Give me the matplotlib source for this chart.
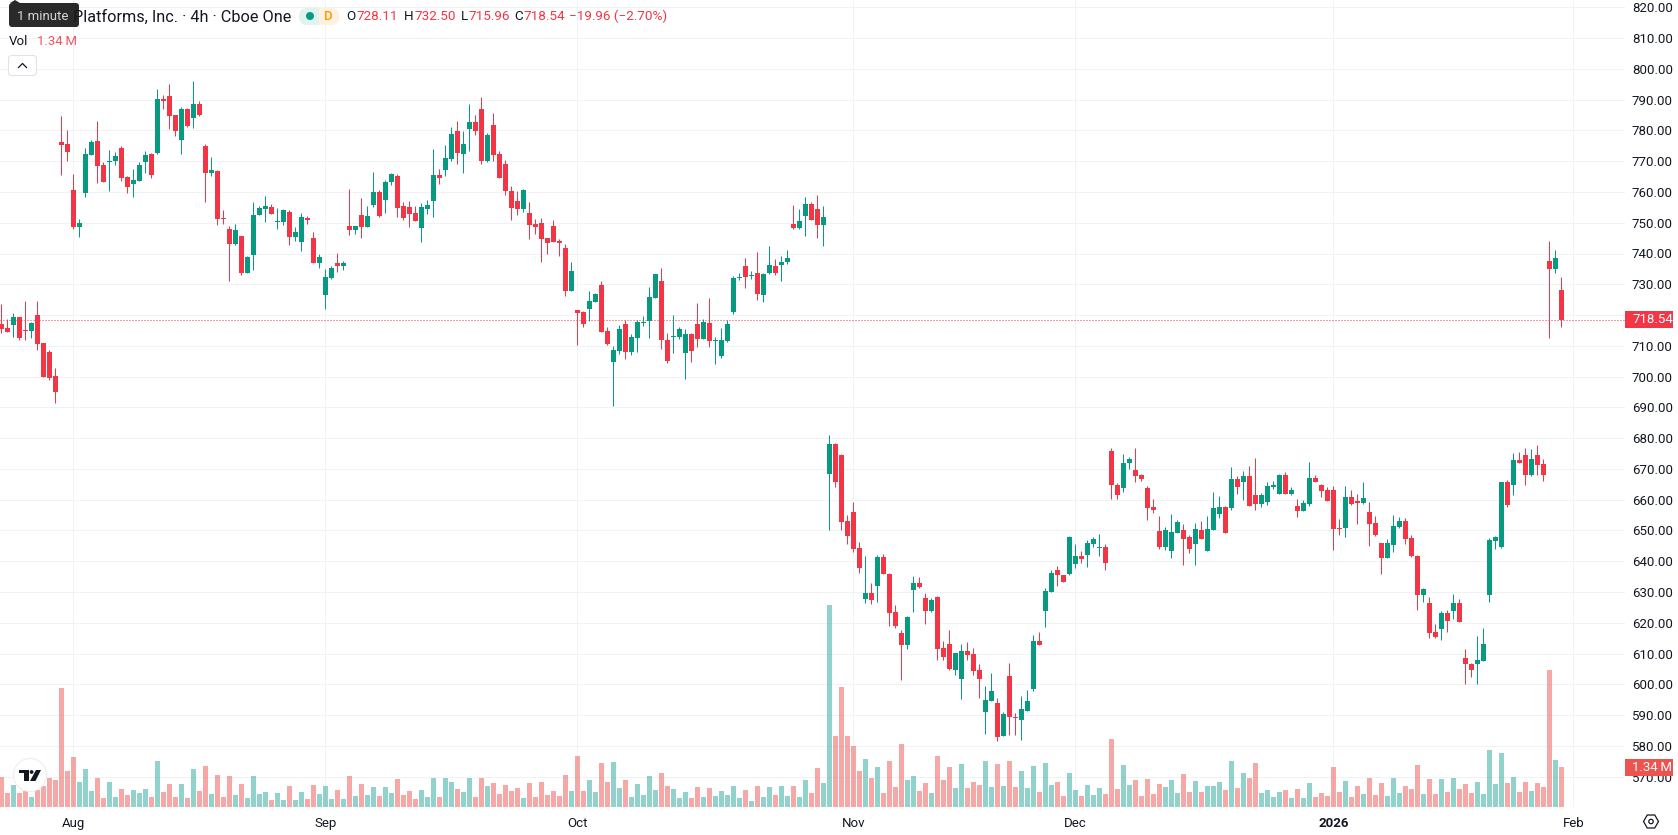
import matplotlib
matplotlib.use("Agg")
import matplotlib.pyplot as plt
import numpy as np
from matplotlib.patches import Circle, FancyBboxPatch, Polygon, Rectangle, RegularPolygon

opens = [
    717.1, 715.8, 716.8, 719.4, 715.2, 714.8, 720.0, 710.9, 708.0, 700.2,
    776.2, 775.6, 760.7, 748.6, 759.7, 772.0, 776.6, 768.8, 769.8, 770.1,
    774.3, 764.9, 762.6, 763.6, 769.8, 772.4, 772.7, 790.2, 791.2, 785.0,
    776.9, 787.0, 784.1, 788.6, 775.0, 766.2, 766.8, 751.6, 748.0, 743.1,
    745.7, 733.7, 739.5, 752.5, 754.5, 755.1, 750.3, 750.3, 753.5, 745.4,
    743.8, 751.6, 745.1, 736.9, 726.5, 732.1, 736.9, 736.0, 749.0, 747.7,
    752.5, 748.6, 755.8, 760.0, 757.4, 763.3, 765.2, 755.5, 755.1, 753.2,
    748.3, 754.5, 757.1, 765.5, 767.1, 770.7, 779.8, 772.4, 780.5, 782.7,
    787.0, 770.1, 781.8, 772.4, 769.1, 760.3, 757.1, 754.5, 753.2, 749.6,
    749.9, 745.0, 748.9, 744.1, 741.8, 727.8, 721.7, 721.0, 722.0, 724.2,
    729.8, 714.8, 704.8, 708.3, 717.1, 708.0, 712.5, 717.4, 718.1, 725.6,
    731.1, 711.9, 712.9, 712.9, 707.7, 713.9, 717.1, 712.2, 717.4, 711.6,
    706.7, 711.6, 721.0, 732.1, 736.0, 732.7, 733.7, 726.5, 733.7, 736.0,
    736.3, 737.3, 749.6, 748.3, 752.2, 756.1, 754.5, 749.3, 668.4, 678.1,
    674.5, 653.1, 656.0, 644.3, 627.7, 629.7, 631.9, 641.4, 635.9, 623.5,
    616.7, 612.8, 630.6, 632.9, 628.1, 623.8, 628.4, 611.8, 613.1, 604.7,
    601.7, 610.8, 609.9, 604.7, 591.0, 594.6, 593.9, 583.2, 602.7, 589.4,
    588.4, 591.3, 598.5, 614.1, 623.8, 630.0, 637.2, 635.5, 635.9, 639.1,
    641.7, 642.0, 645.6, 644.3, 644.6, 675.8, 664.8, 663.8, 671.9, 669.6,
    668.0, 663.8, 657.6, 649.8, 644.6, 643.3, 649.2, 650.2, 647.9, 645.6,
    650.2, 643.3, 650.2, 655.3, 657.6, 657.3, 666.7, 665.7, 667.7, 661.5,
    658.6, 659.2, 664.1, 661.9, 668.0, 661.9, 657.9, 656.3, 658.6, 667.0,
    664.8, 663.2, 663.2, 650.8, 650.8, 660.9, 659.6, 658.9, 656.0, 652.4,
    645.9, 641.1, 645.3, 651.1, 653.1, 647.5, 641.7, 629.0, 626.4, 617.0,
    618.0, 623.2, 623.8, 626.4, 608.5, 606.6, 606.6, 607.6, 629.0, 646.6,
    644.6, 665.7, 664.8, 672.9, 674.5, 668.0, 674.5, 671.6, 737.6, 735.0, 728.11,
]
highs = [
    723.6, 718.6, 720.8, 719.4, 724.6, 717.8, 724.6, 710.9, 708.7, 702.8,
    784.7, 780.2, 765.9, 751.2, 774.3, 776.9, 783.1, 769.6, 773.7, 773.0,
    774.9, 765.2, 767.5, 769.6, 773.3, 772.7, 793.5, 791.5, 795.1, 785.0,
    787.6, 787.3, 796.1, 789.6, 775.6, 771.4, 767.2, 754.2, 749.0, 749.6,
    745.7, 739.2, 756.8, 755.5, 758.7, 756.1, 754.8, 754.5, 754.2, 748.6,
    753.2, 752.2, 747.0, 739.9, 735.0, 736.0, 740.2, 737.6, 761.0, 749.0,
    758.0, 755.5, 766.5, 760.7, 763.9, 766.2, 765.9, 756.8, 757.1, 755.5,
    756.4, 757.4, 774.0, 767.5, 775.3, 781.1, 783.1, 779.8, 788.6, 785.0,
    790.9, 779.2, 785.7, 773.3, 770.4, 762.0, 760.3, 761.0, 756.8, 751.2,
    751.6, 745.0, 750.9, 744.7, 743.1, 737.3, 721.7, 721.3, 727.8, 727.2,
    731.1, 716.1, 710.0, 716.8, 718.4, 713.9, 718.4, 719.7, 729.1, 733.4,
    735.3, 714.2, 720.0, 716.1, 715.5, 714.2, 723.9, 718.7, 725.6, 712.9,
    715.8, 718.4, 732.7, 733.7, 738.6, 734.3, 740.5, 733.7, 742.4, 738.2,
    739.2, 741.2, 755.8, 754.5, 758.4, 756.8, 759.0, 755.5, 681.0, 678.4,
    674.9, 655.0, 659.3, 646.3, 641.7, 632.9, 642.0, 642.4, 636.2, 625.8,
    617.6, 622.2, 635.2, 634.9, 629.7, 628.1, 628.7, 614.1, 617.6, 610.2,
    613.1, 613.7, 611.8, 606.6, 599.4, 603.7, 595.6, 591.0, 606.9, 590.7,
    596.2, 598.1, 616.0, 617.0, 631.3, 637.2, 638.4, 635.5, 648.2, 645.6,
    643.3, 646.9, 647.9, 648.9, 645.6, 676.8, 665.4, 674.9, 673.9, 676.8,
    668.4, 664.5, 660.2, 654.7, 651.1, 655.4, 653.4, 652.1, 648.5, 652.4,
    653.1, 654.7, 662.5, 661.2, 657.9, 670.6, 667.7, 669.3, 670.9, 673.6,
    662.2, 665.8, 666.1, 668.4, 669.0, 664.1, 660.2, 659.9, 672.2, 668.0,
    665.1, 664.1, 664.5, 653.7, 664.5, 663.2, 661.9, 665.7, 659.3, 654.7,
    645.9, 647.2, 655.0, 654.4, 654.0, 648.5, 642.0, 631.3, 628.4, 619.6,
    623.8, 624.1, 629.3, 627.7, 611.5, 606.9, 615.7, 618.3, 647.5, 648.2,
    665.7, 666.4, 675.2, 675.5, 676.8, 676.5, 677.8, 673.2, 744.1, 741.1, 732.50,
]
lows = [
    714.3, 714.5, 713.0, 711.9, 711.9, 712.6, 708.6, 699.9, 698.9, 691.4,
    765.5, 770.1, 748.0, 745.4, 758.4, 772.0, 762.9, 763.3, 760.3, 768.8,
    763.6, 759.7, 758.4, 763.6, 766.2, 764.6, 772.4, 787.0, 780.5, 778.2,
    772.4, 781.1, 780.8, 784.7, 756.8, 765.2, 749.3, 749.6, 731.1, 742.8,
    733.0, 733.7, 734.7, 752.5, 750.3, 752.9, 748.0, 749.3, 742.8, 744.1,
    740.8, 749.6, 736.9, 735.3, 722.0, 731.7, 734.0, 734.7, 746.0, 746.4,
    745.1, 748.6, 755.1, 751.9, 753.2, 762.3, 751.9, 750.9, 748.6, 750.6,
    743.8, 752.8, 751.9, 762.6, 765.2, 770.1, 769.1, 766.2, 773.3, 778.5,
    769.1, 769.8, 770.1, 764.5, 759.0, 750.9, 752.5, 753.5, 744.7, 746.4,
    737.3, 739.9, 743.8, 739.2, 726.2, 727.8, 710.3, 716.1, 718.1, 724.2,
    714.5, 710.3, 690.5, 707.4, 705.7, 707.0, 708.0, 716.4, 712.5, 725.6,
    709.0, 704.4, 707.7, 712.2, 699.2, 704.8, 709.6, 712.2, 709.6, 704.1,
    706.1, 711.2, 720.4, 731.4, 728.8, 731.7, 724.9, 724.3, 733.4, 733.0,
    731.1, 736.6, 748.0, 748.0, 745.7, 750.9, 745.0, 742.4, 650.2, 664.1,
    650.2, 645.6, 643.0, 636.2, 626.4, 626.1, 626.7, 635.9, 619.0, 618.3,
    601.4, 611.5, 623.5, 631.3, 619.6, 623.5, 607.9, 607.9, 604.7, 603.0,
    595.2, 607.9, 603.0, 595.6, 583.8, 594.6, 581.6, 583.2, 583.5, 583.5,
    581.9, 591.3, 597.8, 612.8, 618.6, 630.0, 631.9, 633.2, 635.5, 637.8,
    639.4, 638.1, 644.6, 641.7, 637.2, 660.2, 660.2, 662.5, 670.0, 665.8,
    666.1, 653.4, 655.7, 644.0, 643.6, 641.1, 649.2, 638.8, 642.7, 638.8,
    647.2, 643.3, 650.2, 654.0, 649.2, 656.7, 661.9, 659.9, 657.9, 656.7,
    657.6, 658.3, 663.5, 661.9, 661.9, 661.5, 654.4, 656.3, 657.9, 665.7,
    660.9, 659.6, 643.6, 648.5, 647.9, 658.3, 652.1, 658.6, 645.0, 648.2,
    635.9, 641.1, 643.0, 650.8, 645.6, 641.4, 624.1, 626.7, 615.0, 615.0,
    614.4, 617.0, 621.2, 620.2, 600.1, 602.4, 600.1, 607.6, 626.7, 644.0,
    644.3, 657.6, 661.5, 671.9, 664.8, 667.7, 668.0, 666.1, 712.5, 733.7, 715.96,
]
closes = [
    715.5, 714.5, 719.4, 712.6, 714.8, 717.4, 710.6, 699.9, 699.6, 695.0,
    775.3, 773.0, 748.6, 749.9, 772.4, 776.2, 768.5, 763.3, 770.1, 771.7,
    764.6, 761.6, 763.9, 768.8, 772.0, 765.5, 790.2, 789.6, 784.7, 779.8,
    787.0, 781.4, 788.6, 785.0, 766.2, 767.2, 751.2, 751.2, 743.1, 747.6,
    733.7, 738.9, 752.5, 754.8, 755.5, 752.9, 750.6, 754.2, 745.4, 747.0,
    751.9, 750.9, 736.9, 738.9, 732.4, 735.3, 736.0, 736.9, 747.7, 749.0,
    748.6, 752.2, 760.0, 752.2, 763.3, 765.9, 754.8, 751.6, 752.9, 750.6,
    755.1, 755.8, 765.5, 764.5, 771.0, 778.9, 772.7, 775.6, 782.7, 779.8,
    770.1, 778.5, 772.0, 764.5, 760.3, 754.8, 754.5, 760.6, 749.3, 748.6,
    744.7, 743.4, 743.8, 743.4, 727.8, 734.3, 720.7, 717.1, 724.6, 726.8,
    714.5, 710.6, 708.7, 715.5, 708.0, 712.9, 717.8, 717.8, 725.9, 733.4,
    711.9, 705.1, 713.2, 715.5, 713.9, 708.3, 712.2, 717.8, 711.6, 711.9,
    711.9, 717.1, 732.1, 732.4, 732.4, 733.0, 726.8, 733.4, 736.3, 733.7,
    737.3, 738.6, 748.3, 750.6, 756.1, 750.9, 749.3, 751.9, 678.1, 665.8,
    652.8, 648.2, 644.0, 637.8, 629.7, 627.4, 641.4, 635.9, 623.2, 619.0,
    612.8, 621.9, 632.9, 631.6, 623.8, 627.4, 611.5, 608.9, 605.0, 610.2,
    610.8, 609.5, 604.3, 601.7, 594.9, 597.8, 582.9, 590.4, 589.4, 589.1,
    592.0, 594.6, 614.1, 612.8, 630.3, 636.2, 635.5, 633.2, 647.9, 641.7,
    640.7, 645.9, 647.2, 644.6, 639.4, 664.8, 661.5, 671.9, 673.2, 667.7,
    666.7, 657.3, 656.7, 644.6, 650.2, 649.5, 652.8, 647.2, 644.0, 650.5,
    647.2, 650.5, 657.3, 657.6, 649.2, 666.7, 664.1, 667.7, 657.9, 658.6,
    661.5, 664.5, 664.8, 668.0, 661.9, 663.2, 656.3, 658.9, 667.0, 665.7,
    662.8, 659.6, 650.5, 650.5, 660.9, 658.6, 658.9, 660.6, 652.1, 648.5,
    641.1, 645.9, 651.4, 653.1, 647.2, 641.7, 629.0, 631.0, 616.7, 615.4,
    623.2, 620.6, 626.4, 620.2, 606.6, 604.6, 607.9, 613.1, 646.9, 647.9,
    665.7, 658.3, 672.9, 671.9, 668.0, 673.2, 671.3, 668.0, 735.0, 738.5, 718.54,
]
# volume in millions of shares
volumes = [
    1.01, 0.47, 0.74, 0.47, 0.54, 0.34, 0.57, 0.70, 0.97, 0.90,
    3.99, 1.21, 1.68, 0.84, 1.27, 0.54, 0.97, 0.30, 0.84, 0.34,
    0.60, 0.40, 0.57, 0.47, 0.60, 0.34, 1.54, 0.50, 0.77, 0.34,
    0.77, 0.30, 1.27, 0.54, 1.37, 0.44, 1.07, 0.34, 1.04, 0.40,
    0.77, 0.30, 1.04, 0.44, 0.50, 0.23, 0.47, 0.23, 0.70, 0.23,
    0.50, 0.27, 0.74, 0.44, 0.70, 0.27, 0.57, 0.27, 1.04, 0.37,
    0.77, 0.40, 0.67, 0.37, 0.67, 0.47, 0.94, 0.40, 0.54, 0.27,
    0.57, 0.34, 0.97, 0.34, 0.97, 0.84, 0.60, 0.50, 0.97, 0.34,
    0.97, 0.70, 0.80, 0.44, 0.74, 0.54, 0.64, 0.30, 0.80, 0.34,
    0.84, 0.40, 0.54, 0.37, 1.07, 0.54, 1.71, 0.54, 0.90, 0.50,
    1.47, 0.84, 1.51, 0.64, 0.90, 0.34, 0.77, 0.40, 1.04, 0.57,
    1.14, 0.70, 0.60, 0.30, 0.50, 0.30, 0.67, 0.34, 0.64, 0.37,
    0.54, 0.40, 0.70, 0.30, 0.57, 0.20, 0.70, 0.34, 0.67, 0.40,
    0.70, 0.37, 0.70, 0.34, 0.90, 0.47, 1.31, 0.80, 6.77, 2.38,
    4.02, 2.38, 2.04, 1.21, 1.61, 0.97, 1.34, 0.47, 1.54, 0.67,
    2.11, 0.90, 1.04, 0.54, 0.80, 0.47, 1.71, 0.90, 1.34, 0.64,
    1.44, 0.64, 0.84, 0.74, 1.54, 0.67, 1.44, 0.70, 1.54, 0.67,
    1.21, 0.64, 1.37, 0.50, 1.47, 0.74, 0.84, 0.37, 1.14, 0.57,
    0.37, 0.74, 0.40, 0.64, 0.44, 2.28, 0.60, 1.41, 0.74, 0.90,
    0.37, 0.94, 0.44, 0.77, 0.67, 0.90, 0.47, 1.11, 0.50, 0.87,
    0.50, 0.70, 0.70, 0.84, 0.57, 1.54, 0.64, 1.14, 0.97, 1.47,
    0.47, 0.57, 0.34, 0.50, 0.57, 0.30, 0.60, 0.30, 0.80, 0.34,
    0.47, 0.37, 1.34, 0.50, 0.87, 0.34, 0.70, 0.44, 0.97, 0.40,
    0.80, 0.37, 0.97, 0.47, 0.70, 0.60, 1.41, 0.44, 0.94, 0.44,
    0.94, 0.50, 0.97, 0.60, 0.77, 0.47, 0.84, 0.44, 1.91, 0.77,
    1.81, 0.80, 1.01, 0.50, 0.84, 0.54, 0.80, 0.67, 4.59, 1.57, 1.34,
]

month_bars = [12, 54, 96, 142, 179, 222, 262]
month_labels = ["Aug", "Sep", "Oct", "Nov", "Dec", "2026", "Feb"]
price_ticks = list(range(570, 830, 10))

GREEN = "#089981"
RED = "#F23645"
VOL_GREEN = "#26a69a"
VOL_RED = "#ef5350"
GRID = "#f1f2f4"
TEXT = "#131722"
W, H = 1678, 835
PANE_RIGHT, PANE_BOTTOM = 1625, 807

plt.rcParams["font.family"] = ["Roboto", "DejaVu Sans"]

fig = plt.figure(figsize=(W / 100, H / 100), dpi=100, facecolor="white")
ax = fig.add_axes([0, 1 - PANE_BOTTOM / H, PANE_RIGHT / W, PANE_BOTTOM / H])
for side in ax.spines.values():
    side.set_visible(False)

x = np.arange(len(closes))
o, h, l, c = map(np.array, (opens, highs, lows, closes))
up = c >= o

# 6 px per bar, 3.077 px per price unit
ax.set_xlim(-1.3 / 6, (PANE_RIGHT - 1.3) / 6)
ax.set_ylim(740 - (PANE_BOTTOM - 253.5) / 3.077, 740 + 253.5 / 3.077)

ax.set_axisbelow(True)
ax.grid(True, color=GRID, linewidth=0.72)
ax.set_xticks(month_bars, month_labels, fontsize=9.5, color=TEXT)
ax.set_yticks(price_ticks, [f"{p:.2f}" for p in price_ticks], fontsize=9.5, color=TEXT)
ax.tick_params(axis="x", length=0, pad=7)
ax.get_xticklabels()[month_labels.index("2026")].set_fontweight("bold")

ax.axhline(closes[-1], color=RED, linewidth=0.72, linestyle=(0, (1, 2)), zorder=1.5)

colors = np.where(up, GREEN, RED)
ax.vlines(x, l, h, colors=colors, linewidth=0.72, zorder=2)
ax.bar(x, np.maximum(np.abs(c - o), 0.3), bottom=np.minimum(o, c), width=5 / 6,
       color=colors, linewidth=0, zorder=3)

# volume pane shares the area, scaled to about 30 px per million
ax_vol = ax.twinx()
for side in ax_vol.spines.values():
    side.set_visible(False)
ax_vol.set_ylim(0, PANE_BOTTOM / 29.85)
ax_vol.set_yticks([])
ax_vol.bar(x, volumes, width=5 / 6, color=np.where(up, VOL_GREEN, VOL_RED), alpha=0.5, linewidth=0)

# twinx moves the price labels back to the left
ax.yaxis.tick_right()
ax.tick_params(axis="y", length=0, pad=5)

# header, price tags and chart widgets are laid out in pixels
ui = fig.add_axes([0, 0, 1, 1], zorder=5)
ui.set_xlim(0, W)
ui.set_ylim(H, 0)
ui.axis("off")


def price_tag(axis, value, label, color):
    y = H - axis.transData.transform((0, value))[1]
    ui.add_patch(Rectangle((PANE_RIGHT, y - 8.5), 48, 17, color=color, linewidth=0))
    ui.text(1632, y, label, color="white", fontsize=9.5, va="center", ha="left")


price_tag(ax, closes[-1], f"{closes[-1]:.2f}", RED)
price_tag(ax_vol, volumes[-1], "1.34\u2009M", VOL_RED)

ui.text(73, 17, "Platforms, Inc. · 4h · Cboe One", fontsize=11.7, color=TEXT, va="center")

# tooltip covering the start of the title
ui.add_patch(FancyBboxPatch((9, 3), 70, 24, boxstyle="round,pad=0,rounding_size=3",
                            color="#2a2a2a", linewidth=0))
ui.add_patch(Polygon([(10, 3), (15, 0), (20, 3)], color="#2a2a2a", linewidth=0))
ui.text(17, 16.5, "1 minute", fontsize=9.5, color="#d6d6d6", va="center")

# market status pill
ui.add_patch(FancyBboxPatch((299, 8), 40, 17, boxstyle="round,pad=0,rounding_size=8.5",
                            color="#dff3ef", linewidth=0))
pill_right = FancyBboxPatch((299, 8), 40, 17, boxstyle="round,pad=0,rounding_size=8.5",
                            color="#fff0e0", linewidth=0)
ui.add_patch(pill_right)
pill_right.set_clip_path(Rectangle((319, 0), 30, 30, transform=ui.transData))
ui.add_patch(Circle((310, 16), 4, color=GREEN, linewidth=0))
ui.text(328, 16.5, "D", fontsize=9.5, color="#ff9800", va="center", ha="center", fontweight="medium")

ohlc_x = [(346, "O", TEXT), (356.5, "728.11", RED), (404, "H", TEXT), (414, "732.50", RED),
          (461, "L", TEXT), (468, "715.96", RED), (514, "C", TEXT), (523, "718.54", RED),
          (569, "−19.96 (−2.70%)", RED)]
for px, label, color in ohlc_x:
    ui.text(px, 16.5, label, fontsize=9.7, color=color, va="center")

ui.text(9, 41.5, "Vol", fontsize=9.5, color=TEXT, va="center")
ui.text(37, 41.5, "1.34\u2009M", fontsize=9.5, color="#f7525f", va="center")

# collapse button
ui.add_patch(FancyBboxPatch((8.5, 55.5), 28, 20, boxstyle="round,pad=0,rounding_size=3",
                            facecolor="white", edgecolor="#e0e3eb", linewidth=0.8))
ui.plot([18.5, 22.5, 26.5], [67.5, 63.5, 67.5], color=TEXT, linewidth=0.9)

# watermark badge
ui.add_patch(Circle((30, 775), 16.5, facecolor="white", edgecolor="#eeeeee", linewidth=0.8))
ui.add_patch(Polygon([(18.6, 770), (28.6, 770), (28.6, 781), (24.3, 781), (24.3, 773.4), (18.6, 773.4)],
                     color="#131722", linewidth=0))
ui.add_patch(Circle((31.6, 772), 1.9, color="#131722", linewidth=0))
ui.add_patch(Polygon([(36, 770), (41, 770), (35.5, 781), (30, 781)], color="#131722", linewidth=0))

# settings icon
ui.add_patch(RegularPolygon((1651, 821.5), 6, radius=7.5, orientation=np.pi / 6,
                            facecolor="none", edgecolor=TEXT, linewidth=0.9))
ui.add_patch(Circle((1651, 821.5), 2.2, facecolor="none", edgecolor=TEXT, linewidth=0.9))

fig.savefig("out.png", dpi=100)
